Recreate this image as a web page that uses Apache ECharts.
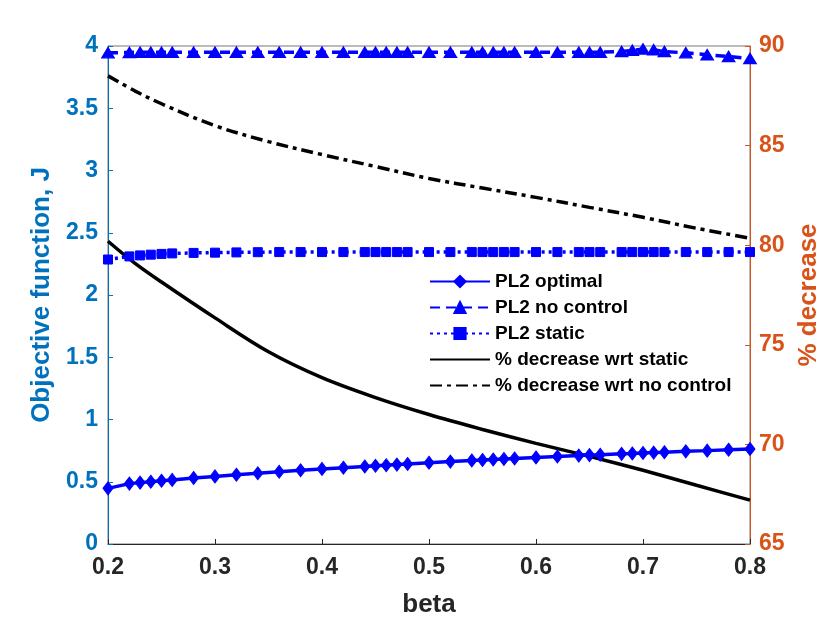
<!DOCTYPE html>
<html>
<head>
<meta charset="utf-8">
<script src="https://cdn.jsdelivr.net/npm/echarts@6/dist/echarts.min.js"></script>
<style>html,body{margin:0;padding:0;background:#fff;}#c{width:830px;height:623px;}</style>
</head>
<body>
<div id="c"></div>
<script>
const beta = [0.20,0.22,0.23,0.24,0.25,0.26,0.28,0.30,0.32,0.34,0.36,0.38,0.40,0.42,0.44,0.45,0.46,0.47,0.48,0.50,
              0.52,0.54,0.55,0.56,0.57,0.58,0.60,0.62,0.64,0.65,0.66,0.68,0.69,0.70,0.71,0.72,0.74,0.76,0.78,0.80];
const pl2Optimal = [0.447,0.485,0.493,0.500,0.508,0.515,0.530,0.543,0.556,0.568,0.580,0.592,0.603,0.613,0.623,0.628,0.633,0.638,0.643,0.653,
                    0.662,0.671,0.675,0.679,0.683,0.687,0.695,0.703,0.710,0.714,0.717,0.724,0.727,0.731,0.734,0.737,0.744,0.750,0.757,0.763];
const pl2NoControl = [3.945,3.948,3.95,3.95,3.95,3.95,3.95,3.95,3.95,3.95,3.95,3.95,3.95,3.95,3.95,3.95,3.95,3.95,3.95,3.95,
                      3.95,3.95,3.95,3.95,3.95,3.95,3.95,3.95,3.95,3.95,3.95,3.955,3.965,3.975,3.97,3.955,3.945,3.93,3.915,3.90];
const pl2Static = [2.285,2.310,2.318,2.324,2.330,2.334,2.338,2.340,2.342,2.344,2.345,2.345,2.345,2.345,2.345,2.345,2.345,2.345,2.345,2.345,
                   2.345,2.345,2.345,2.345,2.345,2.345,2.345,2.345,2.345,2.345,2.345,2.345,2.345,2.345,2.345,2.345,2.345,2.345,2.345,2.345];
const pctBeta = [0.20,0.225,0.25,0.30,0.35,0.40,0.45,0.50,0.55,0.60,0.65,0.70,0.75,0.80];
const pctWrtStatic = [80.2,79.1,78.15,76.35,74.65,73.35,72.35,71.5,70.75,70.05,69.4,68.7,67.95,67.2];
const pctWrtNoControl = [88.5,87.75,87.1,86.0,85.2,84.55,83.95,83.35,82.87,82.4,81.9,81.4,80.85,80.35];
const xTicks = {min:0.2, max:0.8, step:0.1};
const leftTicks = {min:0, max:4, step:0.5};
const rightTicks = {min:65, max:90, step:5};

const BLUE = '#0000FF';
const FONT = 'Liberation Sans';
const pair = (xs, ys) => xs.map((x,i)=>[x, ys[i]]);

const chart = echarts.init(document.getElementById('c'));
chart.setOption({
  animation: false,
  backgroundColor: '#fff',
  textStyle: {fontFamily: FONT},
  grid: {left:108, right:80, top:46, bottom:79, show:true, borderColor:'#777', borderWidth:1, backgroundColor:'transparent'},
  legend: {
    orient:'vertical', left:424, top:267, itemWidth:60, itemHeight:14, itemGap:7,
    textStyle:{fontSize:19, fontWeight:'bold', color:'#000', fontFamily:FONT, lineHeight:19},
    data:['PL2 optimal','PL2 no control','PL2 static',
          {name:'% decrease wrt static', itemStyle:{opacity:0}},
          {name:'% decrease wrt no control', itemStyle:{opacity:0}}]
  },
  xAxis: {
    type:'value', min:xTicks.min, max:xTicks.max, interval:xTicks.step,
    name:'beta', nameLocation:'middle', nameGap:48,
    nameTextStyle:{fontSize:26, fontWeight:'bold', color:'#262626', fontFamily:FONT},
    axisLine:{lineStyle:{color:'#262626', width:1}},
    axisTick:{inside:true, length:5, lineStyle:{color:'#262626'}},
    axisLabel:{fontSize:23, fontWeight:'bold', color:'#262626', margin:12, fontFamily:FONT, formatter:v=>v.toFixed(1)},
    splitLine:{show:false}
  },
  yAxis: [{
    type:'value', min:leftTicks.min, max:leftTicks.max, interval:leftTicks.step, position:'left',
    name:'Objective function, J', nameLocation:'middle', nameGap:52, nameRotate:90,
    nameTextStyle:{fontSize:26, fontWeight:'bold', color:'#0072BD', fontFamily:FONT},
    axisLine:{show:true, lineStyle:{color:'#0072BD', width:1}},
    axisTick:{show:true, inside:true, length:5, lineStyle:{color:'#0072BD'}},
    axisLabel:{fontSize:23, fontWeight:'bold', color:'#0072BD', margin:10, fontFamily:FONT},
    splitLine:{show:false}
  },{
    type:'value', min:rightTicks.min, max:rightTicks.max, interval:rightTicks.step, position:'right',
    name:'% decrease', nameLocation:'middle', nameGap:42, nameRotate:90,
    nameTextStyle:{fontSize:26, fontWeight:'bold', color:'#D95319', fontFamily:FONT},
    axisLine:{show:true, lineStyle:{color:'#D95319', width:1}},
    axisTick:{show:true, inside:true, length:5, lineStyle:{color:'#D95319'}},
    axisLabel:{fontSize:23, fontWeight:'bold', color:'#D95319', margin:9, fontFamily:FONT},
    splitLine:{show:false}
  }],
  series: [
    {name:'% decrease wrt static', type:'line', yAxisIndex:1, data:pair(pctBeta, pctWrtStatic),
     smooth:0.35, showSymbol:false, symbol:'none', clip:false, z:2,
     lineStyle:{color:'#000', width:3.5, type:'solid'}, itemStyle:{color:'#000'}},
    {name:'% decrease wrt no control', type:'line', yAxisIndex:1, data:pair(pctBeta, pctWrtNoControl),
     smooth:0.35, showSymbol:false, symbol:'none', clip:false, z:2,
     lineStyle:{color:'#000', width:3.5, type:[12,5,4,5]}, itemStyle:{color:'#000'}},
    {name:'PL2 optimal', type:'line', yAxisIndex:0, data:pair(beta, pl2Optimal), clip:false, z:3,
     symbol:'diamond', symbolSize:[10,13], showAllSymbol:true,
     lineStyle:{color:BLUE, width:3.5}, itemStyle:{color:BLUE, borderColor:BLUE, borderWidth:1}},
    {name:'PL2 no control', type:'line', yAxisIndex:0, data:pair(beta, pl2NoControl), clip:false, z:3,
     symbol:'triangle', symbolSize:[12,10], showAllSymbol:true,
     lineStyle:{color:BLUE, width:3.5, type:[10,6]}, itemStyle:{color:BLUE, borderColor:BLUE, borderWidth:1.5}},
    {name:'PL2 static', type:'line', yAxisIndex:0, data:pair(beta, pl2Static), clip:false, z:3,
     symbol:'rect', symbolSize:9, showAllSymbol:true,
     lineStyle:{color:BLUE, width:3.5, type:[3,4]}, itemStyle:{color:BLUE, borderColor:BLUE, borderWidth:1}}
  ]
});
</script>
</body>
</html>
